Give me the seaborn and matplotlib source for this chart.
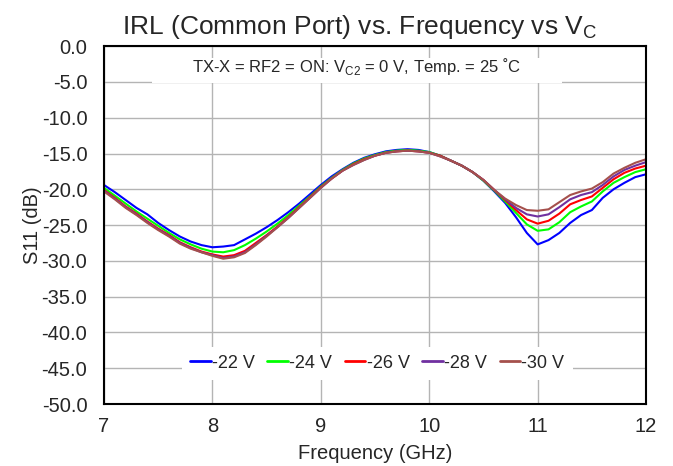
import numpy as np
import pandas as pd
import seaborn as sns
import matplotlib.pyplot as plt
from matplotlib.patches import Rectangle

freq = np.round(np.arange(7.0, 12.01, 0.1), 1)

s11_22 = [-19.4, -20.4, -21.5, -22.6, -23.5, -24.7, -25.7, -26.6, -27.3, -27.8,
          -28.1, -28.0, -27.8, -27.0, -26.2, -25.3, -24.3, -23.2, -22.0, -20.7,
          -19.4, -18.2, -17.2, -16.3, -15.6, -15.1, -14.7, -14.5, -14.4, -14.5,
          -14.8, -15.3, -16.0, -16.7, -17.6, -18.8, -20.3, -21.9, -23.9, -26.1,
          -27.7, -27.1, -26.1, -24.7, -23.6, -22.9, -21.2, -20.0, -19.1, -18.3,
          -17.9]
s11_24 = [-19.8, -20.9, -22.0, -23.1, -24.1, -25.1, -26.1, -27.0, -27.7, -28.3,
          -28.7, -28.8, -28.5, -27.8, -26.9, -25.9, -24.8, -23.6, -22.3, -21.0,
          -19.6, -18.4, -17.3, -16.4, -15.7, -15.2, -14.8, -14.6, -14.5, -14.6,
          -14.8, -15.3, -16.0, -16.7, -17.6, -18.8, -20.2, -21.7, -23.3, -24.9,
          -25.8, -25.6, -24.6, -23.2, -22.4, -21.7, -20.3, -19.1, -18.3, -17.6,
          -17.2]
s11_26 = [-20.1, -21.2, -22.4, -23.4, -24.5, -25.5, -26.4, -27.4, -28.1, -28.7,
          -29.1, -29.4, -29.2, -28.6, -27.5, -26.4, -25.2, -23.9, -22.5, -21.1,
          -19.7, -18.5, -17.4, -16.5, -15.8, -15.3, -14.9, -14.7, -14.6, -14.7,
          -14.9, -15.3, -16.0, -16.7, -17.6, -18.7, -20.1, -21.5, -22.9, -24.2,
          -24.8, -24.4, -23.4, -22.1, -21.5, -21.0, -19.8, -18.6, -17.7, -17.1,
          -16.7]
s11_28 = [-20.2, -21.3, -22.5, -23.5, -24.6, -25.6, -26.5, -27.5, -28.2, -28.8,
          -29.2, -29.6, -29.4, -28.8, -27.7, -26.5, -25.3, -24.0, -22.6, -21.2,
          -19.8, -18.5, -17.4, -16.6, -15.9, -15.3, -14.9, -14.7, -14.6, -14.7,
          -14.9, -15.4, -16.0, -16.7, -17.6, -18.7, -20.1, -21.4, -22.6, -23.5,
          -23.8, -23.5, -22.5, -21.4, -20.8, -20.4, -19.4, -18.2, -17.3, -16.7,
          -16.2]
s11_30 = [-20.3, -21.4, -22.6, -23.6, -24.7, -25.7, -26.6, -27.6, -28.3, -28.8,
          -29.3, -29.7, -29.5, -28.9, -27.8, -26.6, -25.3, -24.0, -22.6, -21.2,
          -19.8, -18.5, -17.4, -16.6, -15.9, -15.3, -14.9, -14.7, -14.6, -14.7,
          -14.9, -15.4, -16.0, -16.7, -17.6, -18.7, -20.1, -21.3, -22.2, -22.9,
          -23.0, -22.8, -21.8, -20.8, -20.3, -19.9, -19.0, -17.8, -17.0, -16.3,
          -15.8]

labels = ["-22 V", "-24 V", "-26 V", "-28 V", "-30 V"]
colors = ["#0000FF", "#00FF00", "#FF0000", "#7030A0", "#A5504C"]

df = pd.concat([
    pd.DataFrame({"Frequency": freq, "S11": vals, "Vc": lab})
    for vals, lab in zip([s11_22, s11_24, s11_26, s11_28, s11_30], labels)
])

sns.set_style("white")
plt.rcParams['font.family'] = ['Liberation Sans', 'DejaVu Sans']

fig = plt.figure(figsize=(6.73, 4.66), dpi=100)
ax = fig.add_axes([0.1545, 0.133, 0.8055, 0.768])

sns.lineplot(data=df, x="Frequency", y="S11", hue="Vc", palette=colors,
             hue_order=labels, linewidth=1.5, ax=ax, zorder=3)

ax.set_xlim(7, 12)
ax.set_ylim(-50, 0)
ax.set_xticks([7, 8, 9, 10, 11, 12])
ax.set_yticks(np.arange(-50, 0.1, 5))
ax.set_yticklabels([f"{v:.1f}" for v in np.arange(-50, 0.1, 5)])
ax.tick_params(labelsize=14.5, length=0)
ax.tick_params(axis="x", pad=9)
ax.tick_params(axis="y", pad=12)
ax.grid(True, color="#B4B4B4", linewidth=1.0)
ax.set_axisbelow(True)
for sp in ax.spines.values():
    sp.set_color("black")
    sp.set_linewidth(1.5)
    sp.set_zorder(5)

ax.set_xlabel("Frequency (GHz)", fontsize=14.5, labelpad=6)
ax.set_ylabel("S11 (dB)", fontsize=14.5, labelpad=0)
ax.set_title("IRL (Common Port) vs. Frequency vs V$_\\mathregular{C}$",
             fontsize=19, pad=9, x=0.472)

# white text box covering the grid behind the condition note
ax.add_patch(Rectangle((7.44, -5.2), 3.78, 3.5, facecolor="white",
                       edgecolor="none", zorder=1.5))
ax.text(9.33, -2.9, "TX-X = RF2 = ON: V$_\\mathregular{C2}$ = 0 V, Temp. = 25 ˚C",
        fontsize=12, ha="center", va="center", zorder=2)

leg = ax.legend(loc="center", bbox_to_anchor=(0.504, 0.114), ncol=5, fontsize=13,
                frameon=True, handlelength=1.15, handletextpad=0.06, columnspacing=0.7,
                borderpad=0.45)
leg.get_frame().set_edgecolor("none")
leg.get_frame().set_facecolor("white")
leg.get_frame().set_alpha(1)
leg.get_frame().set_boxstyle("square", pad=0.0)
for h in leg.get_lines():
    h.set_linewidth(2.0)

fig.savefig("out.png", dpi=100)
